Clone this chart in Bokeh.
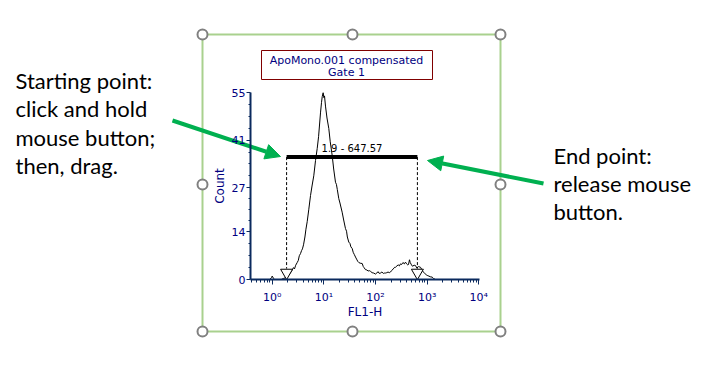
from bokeh.plotting import figure
from bokeh.models import Range1d, FixedTicker, Arrow, NormalHead
from bokeh.core.properties import value
from bokeh.embed import file_html
from bokeh.resources import INLINE

# ---------------- data ----------------
fl1 = [0.38, 0.9, 0.97, 1.0, 1.05, 1.12, 1.5, 1.65, 1.8, 1.97, 2.1, 2.26, 2.4,
       2.58, 2.7, 2.85, 3.05, 3.2, 3.35, 3.53, 3.7, 3.85, 4.04, 4.3, 4.5, 4.76,
       5.1, 5.52, 5.9, 6.38, 6.9, 7.43, 7.9, 8.61, 9.0, 9.3, 9.7, 10.0, 10.3,
       10.76, 11.5, 12.47, 13.3, 14.5, 15.5, 16.8, 17.5, 18.2, 19.45, 20.5,
       22.6, 24.2, 26.2, 27.5, 28.5, 30.4, 32.0, 33.4, 35.4, 37.0, 39.0, 41.0,
       43.0, 45.5, 47.5, 50.5, 55.3, 58.0, 60.0, 64.0, 68.0, 72.0, 76.0, 80.0,
       86.0, 92.0, 100.0, 106.0, 112.0, 118.0, 125.0, 133.0, 142.0, 150.0,
       156.0, 165.0, 175.0, 185.0, 195.0, 205.0, 220.0, 235.0, 244.0, 260.0,
       275.0, 290.0, 305.0, 320.0, 340.0, 362.0, 381.0, 400.0, 420.0, 435.0,
       455.0, 470.0, 498.0, 520.0, 560.0, 595.0, 630.0, 680.0, 743.0, 790.0,
       850.0, 900.0, 960.0, 1003.0, 1080.0, 1150.0, 1250.0, 1330.0, 1450.0,
       10000.0]
counts = [0, 0, 0.6, 1.0, 0.4, 0, 0, 0.3, 0.5, 0.9, 1.4, 2.0, 2.6,
          3.5, 3.1, 4.2, 5.0, 5.6, 7.0, 7.6, 8.5, 9.0, 10.2, 12.5, 14.8, 17.0,
          20.5, 24.7, 27.5, 30.5, 35.0, 38.5, 42.0, 49.0, 52.0, 53.8, 55.0, 53.5, 54.0,
          51.0, 47.5, 44.4, 40.5, 36.5, 32.5, 28.6, 28.0, 26.5, 23.8, 22.5,
          19.8, 17.5, 15.0, 14.2, 12.5, 11.0, 10.6, 9.6, 9.1, 8.0, 7.3, 6.6,
          6.0, 5.3, 5.0, 4.8, 4.7, 3.8, 3.5, 2.9, 2.8, 2.5, 2.6, 2.4,
          2.0, 1.9, 1.6, 1.9, 2.3, 1.8, 1.9, 2.2, 1.8, 1.9,
          1.9, 2.0, 2.2, 2.0, 2.2, 2.6, 3.1, 3.6, 3.6, 4.0,
          4.3, 4.0, 4.6, 4.4, 5.0, 4.6, 5.1, 4.6, 4.3, 4.4,
          5.8, 5.0, 4.3, 3.9, 4.2, 4.1, 3.4, 3.8, 3.6, 2.9,
          2.1, 1.8, 1.4, 1.2, 1.0, 0.8, 0.7, 0.3, 0,
          0]
gate_low = 1.9
gate_high = 647.57
gate_level = 36
gate_label = "1.9 - 647.57"
y_ticks = [0, 14, 27, 41, 55]
y_minor = [3.5, 7, 10.5, 17.25, 20.5, 23.75, 30.5, 34, 37.5, 44.5, 48, 51.5]
x_ticks = [1, 10, 100, 1000, 10000]
x_tick_labels = ["10⁰", "10¹", "10²", "10³", "10⁴"]
x_minor = [0.4, 0.5, 0.6, 0.7, 0.8, 0.9] + [m * d for d in [1, 10, 100, 1000] for m in range(2, 10)]
title_lines = ["ApoMono.001 compensated", "Gate 1"]
left_note = ["Starting point:", "click and hold", "mouse button;", "then, drag."]
right_note = ["End point:", "release mouse", "button."]

NAVY = "#000080"
AXIS = "#0b2a5e"
GREEN = "#00b050"
LIGHTGREEN = "#a9d18e"
GREY = "#808080"
CHART_FONT = "DejaVu Sans"
NOTE_FONT = "Lato"
W, H = 701, 349

# ---------------- background sheet (pixel coordinates) ----------------
bg = figure(width=W, height=H, x_range=Range1d(0, W), y_range=Range1d(H, 0),
            x_axis_location=None, y_axis_location=None,
            min_border=0, output_backend="svg", toolbar_location=None)
bg.outline_line_color = None
bg.grid.visible = False
bg.background_fill_color = "white"
bg.border_fill_color = "white"

bg.quad(left=[202], right=[500], top=[34], bottom=[331], fill_color=None,
        line_color=LIGHTGREEN, line_width=2)
bg.scatter(x=[202, 352, 500, 202, 500, 202, 352, 500],
           y=[34, 34, 34, 184, 184, 331, 331, 331], marker="circle", size=10,
           fill_color="white", line_color=GREY, line_width=2)

bg.quad(left=[261], right=[432], top=[50], bottom=[79], fill_color="white",
        line_color="#800000", line_width=1)
bg.text(x=[346, 346], y=[59.5, 72], text=title_lines, text_align="center",
        text_baseline="middle", text_font=value(CHART_FONT),
        text_font_size="11px", text_color=NAVY)

bg.text(x=[15] * len(left_note), y=[80 + 28.3 * i for i in range(len(left_note))],
        text=left_note, text_align="left", text_baseline="middle",
        text_font=value(NOTE_FONT), text_font_size="22px", text_color="black")
bg.text(x=[553] * len(right_note), y=[155 + 28 * i for i in range(len(right_note))],
        text=right_note, text_align="left", text_baseline="middle",
        text_font=value(NOTE_FONT), text_font_size="22px", text_color="black")

bg.add_layout(Arrow(x_start=172, y_start=120, x_end=280, y_end=156,
                    line_color=GREEN, line_width=4,
                    end=NormalHead(size=15, fill_color=GREEN, line_color=GREEN)))
bg.add_layout(Arrow(x_start=543, y_start=183, x_end=427, y_end=160,
                    line_color=GREEN, line_width=4,
                    end=NormalHead(size=15, fill_color=GREEN, line_color=GREEN)))

# ---------------- histogram ----------------
p = figure(frame_width=229, frame_height=187,
           min_border_left=250, min_border_right=W - 479,
           min_border_top=92, min_border_bottom=H - 279,
           x_axis_type="log",
           x_range=Range1d(0.38, 10318), y_range=Range1d(0, 55),
           output_backend="svg", toolbar_location=None)
p.outline_line_color = None
p.grid.visible = False
p.background_fill_color = None
p.border_fill_color = None
p.styles = {"margin-top": f"-{H}px"}

xa = p.xaxis[0]
xa.ticker = FixedTicker(ticks=x_ticks, minor_ticks=x_minor)
xa.major_label_overrides = {t: l for t, l in zip(x_ticks, x_tick_labels)}
xa.axis_label = "FL1-H"
ya = p.yaxis[0]
ya.ticker = FixedTicker(ticks=y_ticks, minor_ticks=y_minor)
ya.axis_label = "Count"
for ax in (xa, ya):
    ax.axis_line_color = AXIS
    ax.axis_line_width = 2
    ax.major_tick_line_color = AXIS
    ax.minor_tick_line_color = AXIS
    ax.major_tick_in = 0
    ax.minor_tick_in = 0
    ax.major_label_text_color = NAVY
    ax.major_label_text_font = CHART_FONT
    ax.major_label_text_font_size = "11px"
    ax.axis_label_text_color = NAVY
    ax.axis_label_text_font = CHART_FONT
    ax.axis_label_text_font_size = "12px"
    ax.axis_label_text_font_style = "normal"
xa.major_tick_out = 5
xa.minor_tick_out = 3
xa.major_label_standoff = 6
xa.axis_label_standoff = -2
ya.major_tick_out = 4
ya.minor_tick_out = 2
ya.major_label_standoff = 1
ya.axis_label_standoff = 2

p.line(fl1, counts, line_color="black", line_width=1)

p.segment(x0=[gate_low, gate_high], y0=[gate_level, gate_level],
          x1=[gate_low, gate_high], y1=[3.2, 3.2],
          line_color="black", line_width=1, line_dash="3 2")
p.segment(x0=[gate_low], y0=[gate_level], x1=[gate_high], y1=[gate_level],
          line_color="black", line_width=4)
p.scatter(x=[gate_low, gate_high], y=[2.0, 2.0], marker="inverted_triangle",
          size=12, fill_color="white", line_color="black", line_width=1)
p.text(x=[(gate_low * gate_high) ** 0.5], y=[gate_level], text=[gate_label],
       text_align="center", text_baseline="bottom", y_offset=-3,
       text_font=value(CHART_FONT), text_font_size="10px", text_color="black")

open("out.html", "w").write(file_html([bg, p], INLINE))
